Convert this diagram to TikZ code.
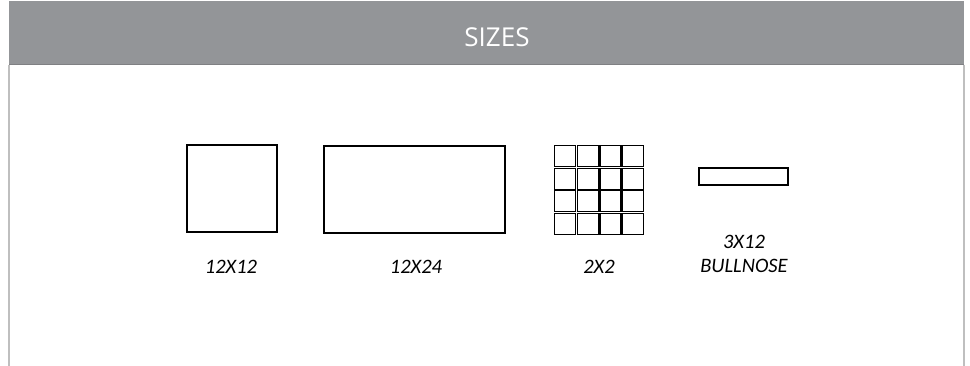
\documentclass[tikz,border=0pt]{standalone}
\usepackage{fontspec}
\setmainfont{Carlito}
\newfontfamily\titlefont{Open Sans}
\definecolor{headgray}{HTML}{939598}
\definecolor{headline}{HTML}{7F8083}
\definecolor{sidegray}{HTML}{BFBFBF}
\begin{document}
\begin{tikzpicture}[x=1pt,y=-1pt,
  tile/.style={draw=black,line width=1.2pt,fill=white,inner sep=0pt,outer sep=0pt},
  lbl/.style={font=\fontsize{20.5}{24}\selectfont\itshape,text=black,inner sep=0pt,align=center}]
\useasboundingbox[fill=white] (0,0) rectangle (970,366);
% header
\fill[headgray] (9,1) rectangle (964,65);
\draw[headline,line width=1.5pt] (9,64.5) -- (964,64.5);
\draw[sidegray,line width=1.8pt] (9,65) -- (9,366);
\draw[sidegray,line width=1.8pt] (964,65) -- (964,366);
\node[text=white,font=\fontsize{26}{29}\selectfont\titlefont,inner sep=0pt] (title) at (497,37) {SIZES};
% tiles
\node[tile,minimum width=90pt,minimum height=87pt] (t1) at (232,188.5) {};
\node[tile,minimum width=181pt,minimum height=87pt] (t2) at (414.5,189.5) {};
\foreach \i in {0,1,2,3}{
  \foreach \j in {0,1,2,3}{
    \node[tile,minimum width=21pt,minimum height=21pt] (g\i\j) at ({565+22.7*\i},{156+22.7*\j}) {};
  }
}
\node[tile,minimum width=89pt,minimum height=17pt] (t4) at (743.5,176.5) {};
% labels
\node[lbl] (l1) at (231,267) {12X12};
\node[lbl] (l2) at (416,267) {12X24};
\node[lbl] (l3) at (599,267) {2X2};
\node[lbl] (l4) at (744,254) {3X12\\BULLNOSE};
\end{tikzpicture}
\end{document}
